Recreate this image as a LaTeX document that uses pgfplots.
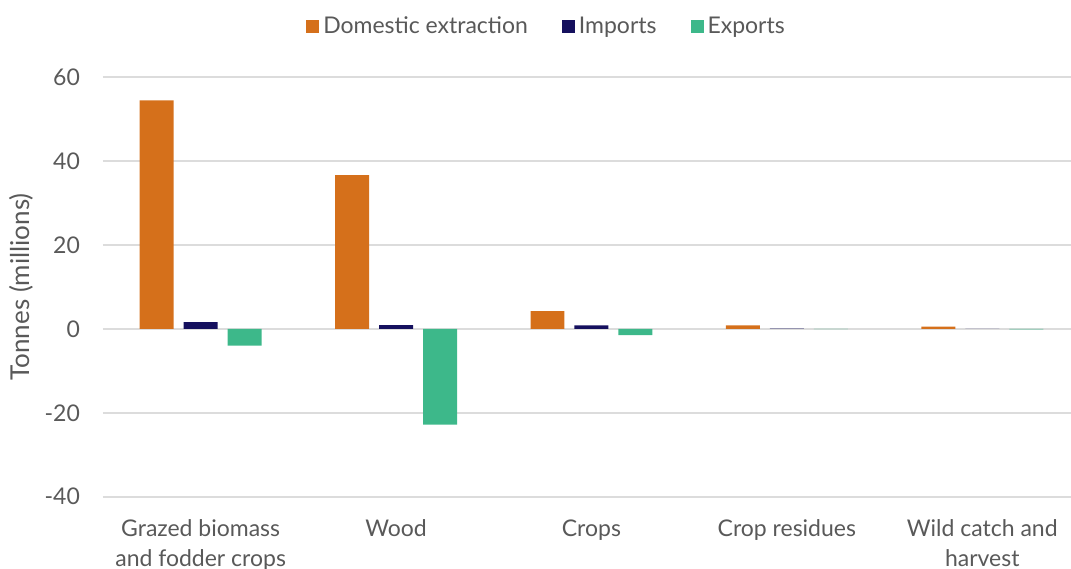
\documentclass[border=0pt]{standalone}
\usepackage{pgfplots}
\pgfplotsset{compat=1.18}
\usepackage{fontspec}
\setmainfont{Lato}

\definecolor{domestic}{HTML}{D5701B}
\definecolor{imports}{HTML}{15105E}
\definecolor{exports}{HTML}{3DB88A}
\definecolor{txt}{HTML}{595959}
\definecolor{gridc}{HTML}{DCDCDC}

\begin{document}
\begin{tikzpicture}
\begin{axis}[
  scale only axis,
  width=488.75pt, height=210pt,
  ymin=-40, ymax=60,
  ytick={-40,-20,0,20,40,60},
  xmin=-0.5, xmax=4.5,
  xtick={0,1,2,3,4},
  xticklabels={{Grazed biomass\\and fodder crops},{Wood},{Crops},{Crop residues},{Wild catch and\\harvest}},
  axis line style={draw=none},
  major tick length=0pt,
  ymajorgrids,
  grid style={gridc, line width=0.8pt},
  font=\fontsize{11.5pt}{15pt}\selectfont,
  tick label style={txt},
  xticklabel style={align=center, yshift=-8pt},
  yticklabel style={xshift=-8pt},
  /pgf/number format/assume math mode=true,
  ylabel={Tonnes (millions)},
  ylabel style={txt, font=\fontsize{13pt}{15pt}\selectfont, yshift=-1pt},
  ybar, bar width=17pt,
  legend style={draw=none, at={(0.455,1.12)}, anchor=center,
    legend columns=-1, text=txt, font=\fontsize{11.5pt}{13.5pt}\selectfont,
    /tikz/every even column/.append style={column sep=15pt}},
  legend image code/.code={\fill[#1] (0pt,-3pt) rectangle (6.5pt,3.5pt);},
]
\addplot[fill=domestic, draw=none, bar shift=-22pt] coordinates {
  (0,54.4) (1,36.6) (2,4.2) (3,0.8) (4,0.5)};
\addplot[fill=imports, draw=none, bar shift=0pt] coordinates {
  (0,1.6) (1,0.9) (2,0.8) (3,0.05) (4,0.02)};
\addplot[fill=exports, draw=none, bar shift=22pt] coordinates {
  (0,-4.0) (1,-22.8) (2,-1.5) (3,-0.05) (4,-0.15)};
\legend{Domestic extraction, Imports, Exports}
\end{axis}
% page frame around the axis with room for labels and legend
\pgfresetboundingbox
\path ([xshift=-51.5pt,yshift=-36pt]current axis.south west)
  rectangle ([xshift=-4.5pt,yshift=38.5pt]current axis.north east);
\end{tikzpicture}
\end{document}
